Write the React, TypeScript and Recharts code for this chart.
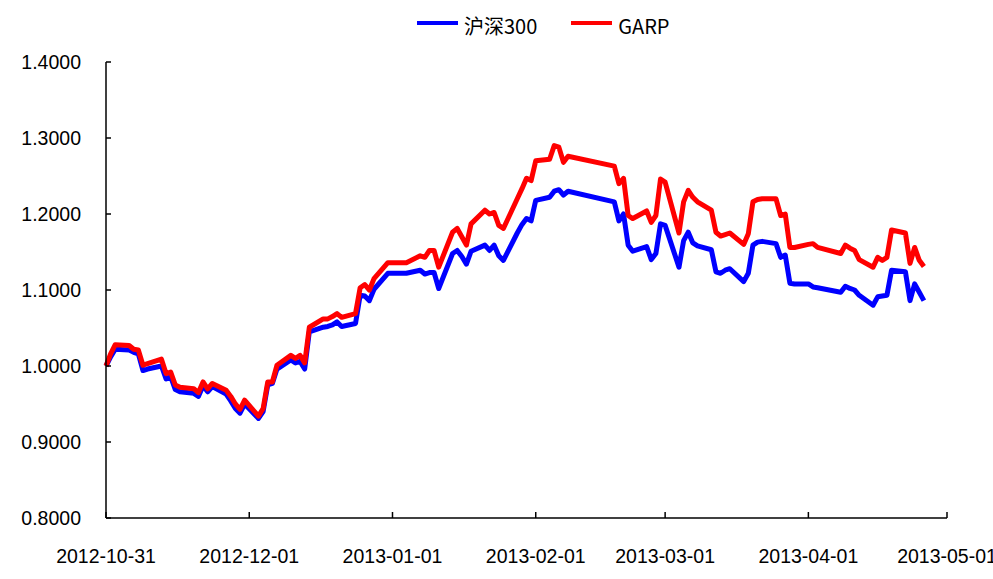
import { LineChart, Line, XAxis, YAxis, Legend } from "recharts"

const tradeDates = [
  "2012-10-31",
  "2012-11-01", "2012-11-02", "2012-11-05", "2012-11-06", "2012-11-07", "2012-11-08", "2012-11-09",
  "2012-11-12", "2012-11-13", "2012-11-14", "2012-11-15", "2012-11-16", "2012-11-19", "2012-11-20",
  "2012-11-21", "2012-11-22", "2012-11-23", "2012-11-26", "2012-11-27", "2012-11-28", "2012-11-29",
  "2012-11-30",
  "2012-12-03", "2012-12-04", "2012-12-05", "2012-12-06", "2012-12-07", "2012-12-10", "2012-12-11",
  "2012-12-12", "2012-12-13", "2012-12-14", "2012-12-17", "2012-12-18", "2012-12-19", "2012-12-20",
  "2012-12-21", "2012-12-24", "2012-12-25", "2012-12-26", "2012-12-27", "2012-12-28", "2012-12-31",
  "2013-01-04", "2013-01-07", "2013-01-08", "2013-01-09", "2013-01-10", "2013-01-11", "2013-01-14",
  "2013-01-15", "2013-01-16", "2013-01-17", "2013-01-18", "2013-01-21", "2013-01-22", "2013-01-23",
  "2013-01-24", "2013-01-25", "2013-01-28", "2013-01-29", "2013-01-30", "2013-01-31",
  "2013-02-01", "2013-02-04", "2013-02-05", "2013-02-06", "2013-02-07", "2013-02-08", "2013-02-18",
  "2013-02-19", "2013-02-20", "2013-02-21", "2013-02-22", "2013-02-25", "2013-02-26", "2013-02-27",
  "2013-02-28",
  "2013-03-01", "2013-03-04", "2013-03-05", "2013-03-06", "2013-03-07", "2013-03-08", "2013-03-11",
  "2013-03-12", "2013-03-13", "2013-03-14", "2013-03-15", "2013-03-18", "2013-03-19", "2013-03-20",
  "2013-03-21", "2013-03-22", "2013-03-25", "2013-03-26", "2013-03-27", "2013-03-28", "2013-03-29",
  "2013-04-01", "2013-04-02", "2013-04-03", "2013-04-08", "2013-04-09", "2013-04-10", "2013-04-11",
  "2013-04-12", "2013-04-15", "2013-04-16", "2013-04-17", "2013-04-18", "2013-04-19", "2013-04-22",
  "2013-04-23", "2013-04-24", "2013-04-25", "2013-04-26",
]

// 沪深300
const hs300 = [
  1.0,
  1.012, 1.022, 1.021, 1.018, 1.016, 0.994, 0.996, 1.0, 0.983, 0.986, 0.969, 0.966, 0.964, 0.96,
  0.974, 0.966, 0.973, 0.963, 0.954, 0.944, 0.938, 0.95,
  0.931, 0.94, 0.975, 0.977, 0.996, 1.008, 1.004, 1.006, 0.996, 1.045, 1.051, 1.052, 1.054, 1.058,
  1.052, 1.056, 1.093, 1.092, 1.086, 1.101, 1.122,
  1.122, 1.126, 1.121, 1.123, 1.123, 1.102, 1.148, 1.152, 1.144, 1.134, 1.151, 1.159, 1.152, 1.159,
  1.145, 1.139, 1.175, 1.186, 1.194, 1.191,
  1.218, 1.222, 1.23, 1.232, 1.225, 1.23, 1.216, 1.191, 1.2, 1.159, 1.151, 1.157, 1.14, 1.148, 1.187,
  1.185, 1.13, 1.165, 1.176, 1.162, 1.158, 1.153, 1.124, 1.122, 1.126, 1.128, 1.111, 1.122, 1.159,
  1.163, 1.164, 1.161, 1.143, 1.146, 1.109, 1.108,
  1.108, 1.104, 1.103, 1.097, 1.105, 1.102, 1.1, 1.093, 1.08, 1.091, 1.092, 1.093, 1.126, 1.124,
  1.086, 1.108, 1.097, 1.086,
]

const garp = [
  1.0,
  1.016, 1.028, 1.027, 1.022, 1.021, 1.001, 1.003, 1.009, 0.99, 0.992, 0.975, 0.972, 0.97, 0.965,
  0.979, 0.97, 0.977, 0.968, 0.96, 0.95, 0.943, 0.955,
  0.934, 0.944, 0.979, 0.979, 1.001, 1.014, 1.01, 1.014, 1.004, 1.051, 1.062, 1.062, 1.065, 1.069,
  1.064, 1.069, 1.103, 1.107, 1.1, 1.115, 1.136,
  1.136, 1.145, 1.143, 1.152, 1.152, 1.13, 1.176, 1.181, 1.17, 1.159, 1.187, 1.205, 1.2, 1.202,
  1.185, 1.181, 1.22, 1.233, 1.247, 1.244,
  1.27, 1.272, 1.29, 1.288, 1.268, 1.276, 1.263, 1.24, 1.247, 1.198, 1.194, 1.204, 1.189, 1.198, 1.246,
  1.242, 1.175, 1.216, 1.231, 1.222, 1.216, 1.205, 1.176, 1.171, 1.173, 1.175, 1.16, 1.174, 1.216,
  1.219, 1.22, 1.22, 1.198, 1.2, 1.156, 1.156,
  1.16, 1.161, 1.156, 1.148, 1.159, 1.155, 1.152, 1.14, 1.13, 1.143, 1.139, 1.143, 1.179, 1.175,
  1.135, 1.156, 1.139, 1.131,
]

const tickDates = ["2012-10-31", "2012-12-01", "2013-01-01", "2013-02-01", "2013-03-01", "2013-04-01", "2013-05-01"]
const yTicks = [0.8, 0.9, 1.0, 1.1, 1.2, 1.3, 1.4]

const seriesNames = { hs300: "沪深300", garp: "GARP" }
const seriesColors = { hs300: "#0000ff", garp: "#ff0000" }

const base = Date.UTC(2012, 9, 31)
function toDay(s: string) {
  const [y, m, d] = s.split("-").map(Number)
  return Math.round((Date.UTC(y, m - 1, d) - base) / 86400000)
}

const data = tradeDates.map((d, i) => ({ day: toDay(d), hs300: hs300[i], garp: garp[i] }))
const xTicks = tickDates.map(toDay)
const tickLabel: Record<number, string> = {}
tickDates.forEach((d) => (tickLabel[toDay(d)] = d))

const axisFont = { fill: "#000", fontSize: 19.5, fontFamily: '"Liberation Sans", Arial, sans-serif' }

function LegendContent() {
  const keys = ["hs300", "garp"] as const
  return (
    <div
      style={{
        display: "flex",
        alignItems: "center",
        fontFamily: '"Noto Sans CJK SC", sans-serif',
        fontSize: 20,
        lineHeight: "28px",
        color: "#000",
      }}
    >
      {keys.map((k) => (
        <div key={k} style={{ display: "flex", alignItems: "center", marginRight: 34 }}>
          <span
            style={{
              display: "inline-block",
              width: 41,
              height: 4,
              background: seriesColors[k],
              marginRight: 6,
              position: "relative",
              top: -3,
            }}
          />
          <span>{seriesNames[k]}</span>
        </div>
      ))}
    </div>
  )
}

export default function App() {
  return (
    <div style={{ position: "absolute", left: 0, top: 0 }}>
      <LineChart width={993} height={579} data={data} margin={{ top: 62, right: 46, left: 0, bottom: 0 }}>
        <XAxis
          dataKey="day"
          type="number"
          domain={[0, 182]}
          ticks={xTicks}
          interval={0}
          tickFormatter={(v) => tickLabel[v] ?? ""}
          height={61}
          tick={axisFont}
          tickSize={-6}
          tickMargin={37}
          axisLine={{ stroke: "#000", strokeWidth: 1.5 }}
          tickLine={{ stroke: "#000", strokeWidth: 1.5 }}
        />
        <YAxis
          type="number"
          domain={[0.8, 1.4]}
          ticks={yTicks}
          interval={0}
          tickFormatter={(v) => v.toFixed(4)}
          width={106}
          tick={axisFont}
          tickSize={-5}
          tickMargin={30}
          axisLine={{ stroke: "#000", strokeWidth: 1.5 }}
          tickLine={{ stroke: "#000", strokeWidth: 1.5 }}
        />
        <Legend
          verticalAlign="middle"
          align="center"
          layout="horizontal"
          content={<LegendContent />}
          wrapperStyle={{ left: 417, top: 12, width: 320 }}
        />
        <Line
          type="linear"
          dataKey="hs300"
          name={seriesNames.hs300}
          stroke={seriesColors.hs300}
          strokeWidth={5}
          strokeLinejoin="round"
          dot={false}
          isAnimationActive={false}
        />
        <Line
          type="linear"
          dataKey="garp"
          name={seriesNames.garp}
          stroke={seriesColors.garp}
          strokeWidth={5}
          strokeLinejoin="round"
          dot={false}
          isAnimationActive={false}
        />
      </LineChart>
    </div>
  )
}
